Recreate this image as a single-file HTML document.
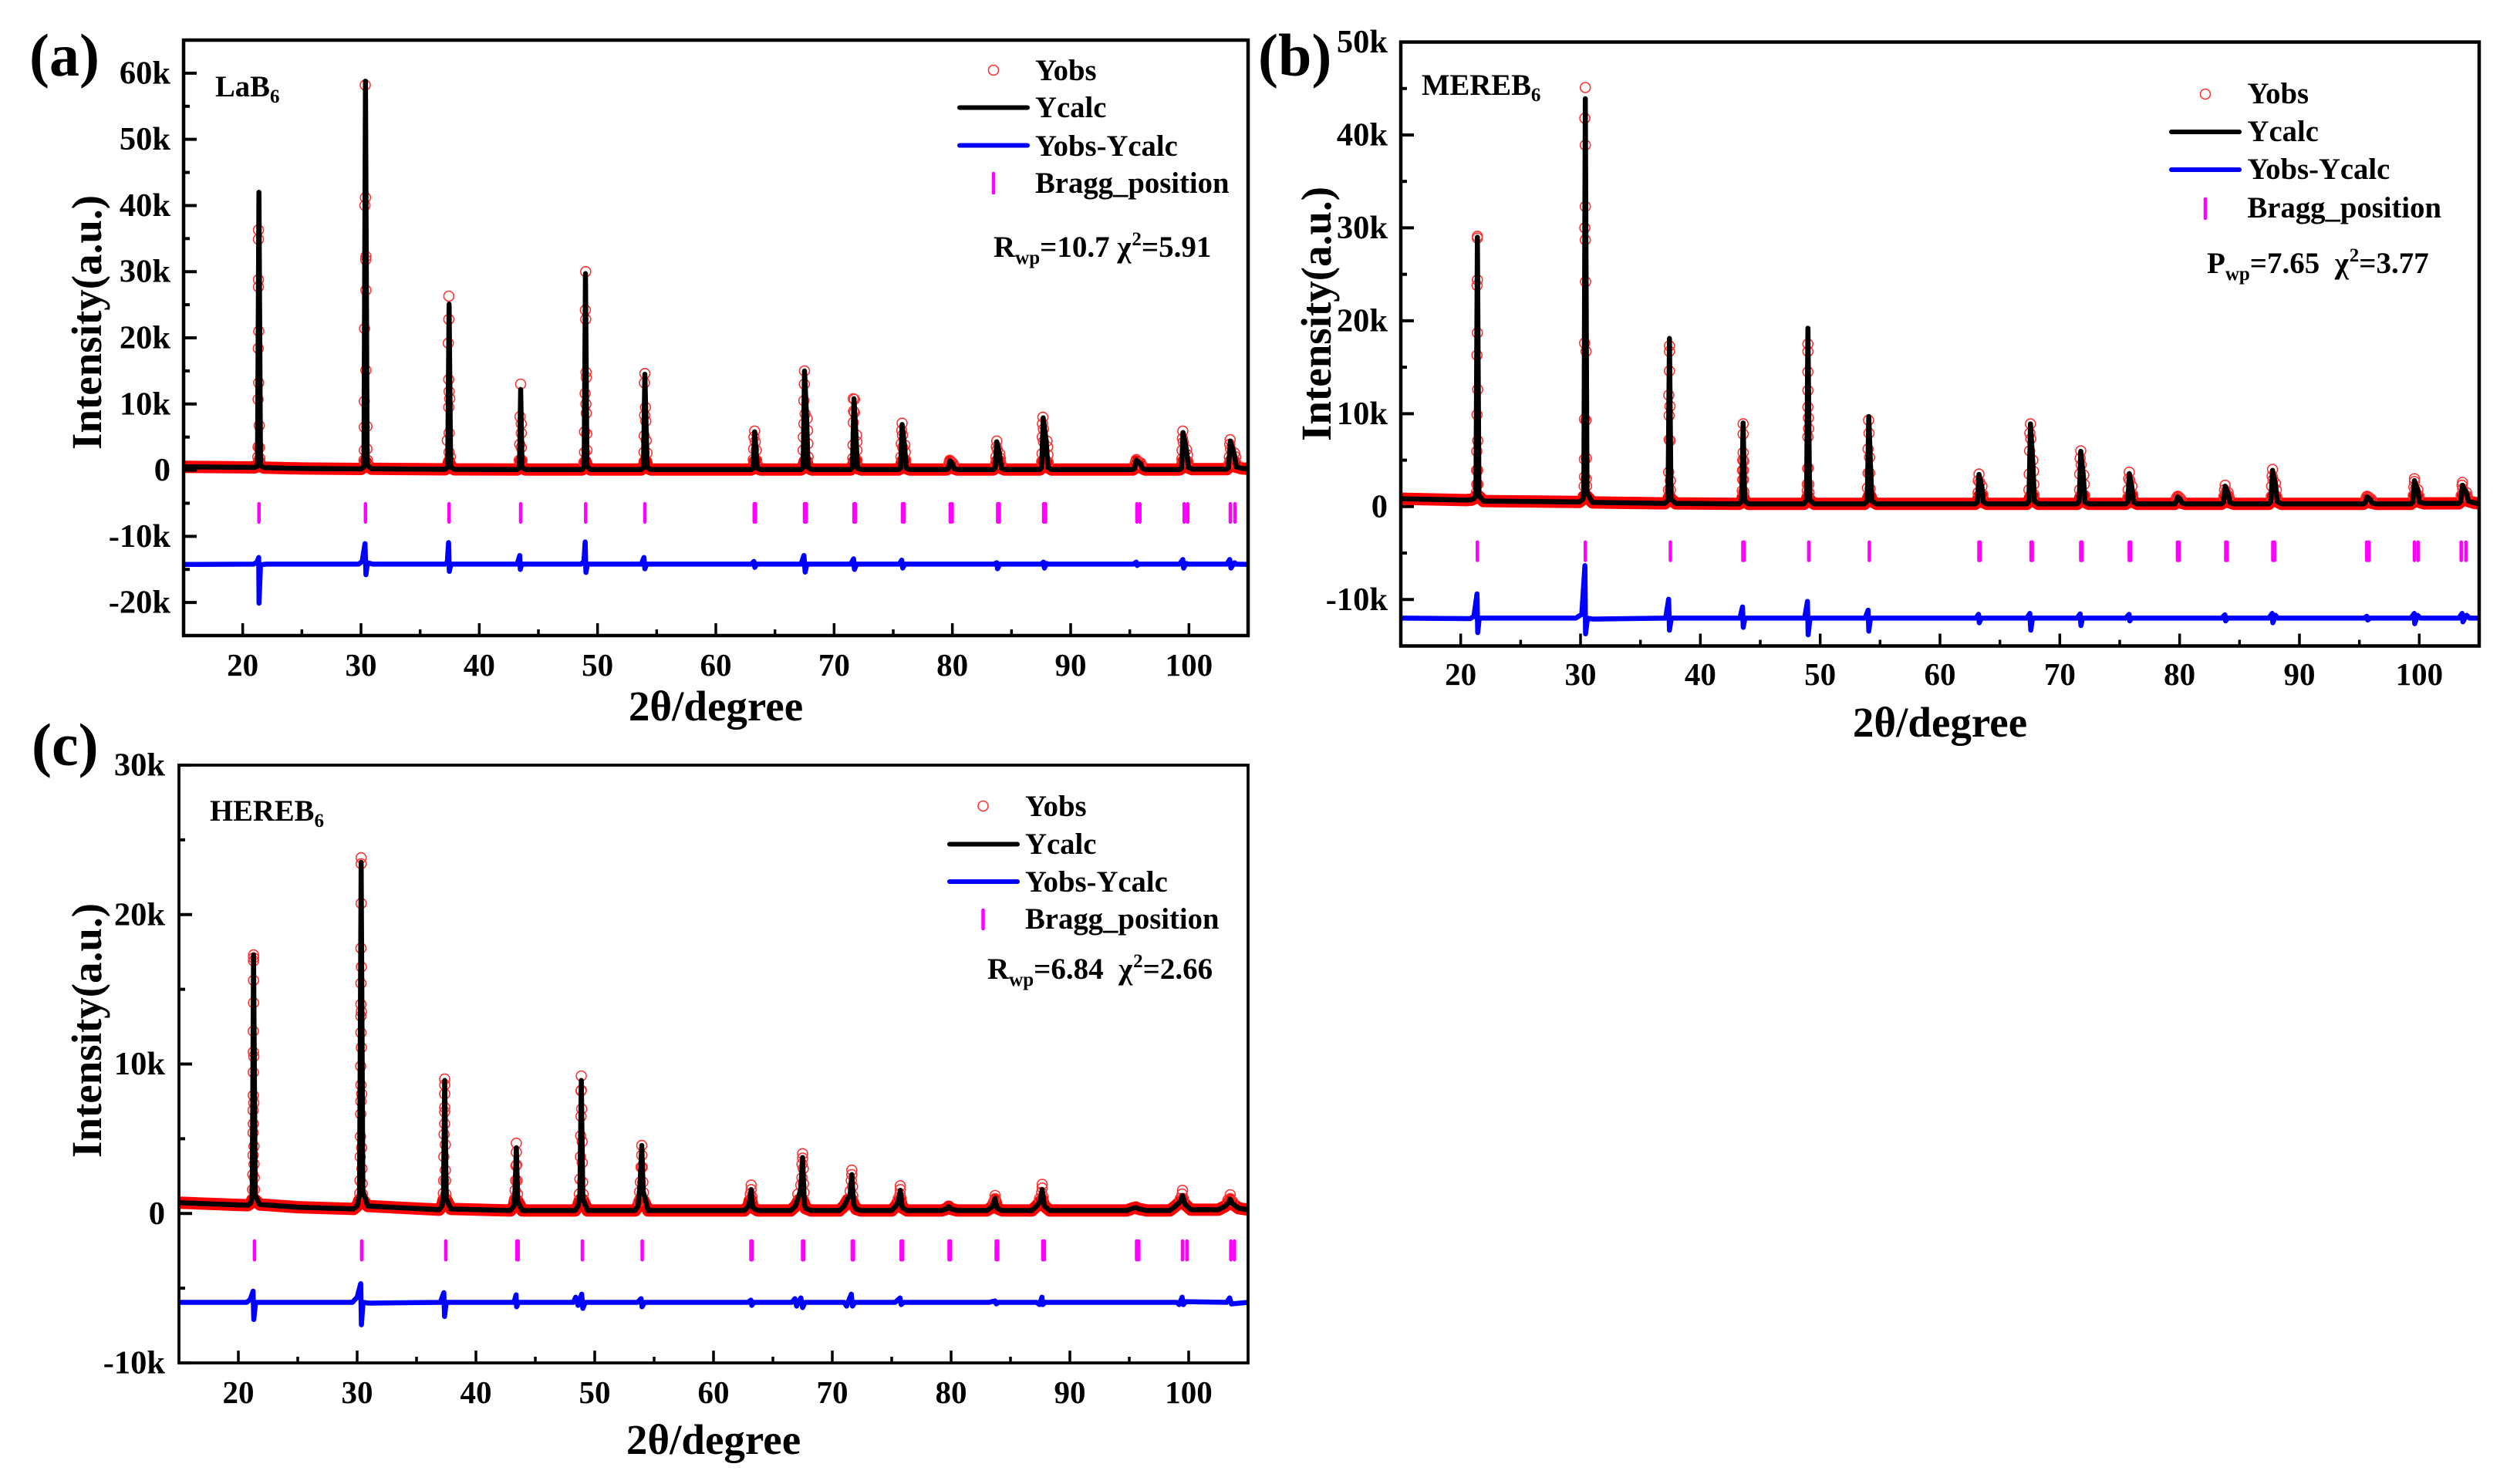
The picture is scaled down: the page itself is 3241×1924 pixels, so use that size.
<!DOCTYPE html>
<html lang="en">
<head>
<meta charset="utf-8">
<title>XRD Rietveld refinement of LaB6, MEREB6 and HEREB6</title>
<style>
html,body{margin:0;padding:0;background:#fff;}
svg{display:block;}
text{font-family:"Liberation Serif",serif;font-weight:bold;fill:#000;}
.leg{font-size:38.7px;}
.stat{font-size:39px;}
.ttl{font-size:55px;}
.lab{font-size:78px;}
</style>
</head>
<body>
<svg id="figure" xmlns="http://www.w3.org/2000/svg" width="3241" height="1924" viewBox="0 0 3241 1924">
  <rect width="3241" height="1924" fill="#fff"/>
  <g id="chart-layer"></g>

  <text class="lab" x="38" y="98">(a)</text>
  <text class="lab" x="1631" y="98">(b)</text>
  <text class="lab" x="41" y="992">(c)</text>

  <text class="ttl" transform="rotate(-90 131 418)" x="131" y="418" text-anchor="middle">Intensity(a.u.)</text>
  <text class="ttl" transform="rotate(-90 1725 407)" x="1725" y="407" text-anchor="middle">Intensity(a.u.)</text>
  <text class="ttl" transform="rotate(-90 131 1336)" x="131" y="1336" text-anchor="middle">Intensity(a.u.)</text>

  <text class="ttl" x="928" y="934" text-anchor="middle">2θ/degree</text>
  <text class="ttl" x="2515" y="955" text-anchor="middle">2θ/degree</text>
  <text class="ttl" x="925" y="1885" text-anchor="middle">2θ/degree</text>

  <text class="leg" x="279" y="125">LaB<tspan dy="8" font-size="25">6</tspan></text>
  <text class="leg" x="1843" y="123">MEREB<tspan dy="8" font-size="25">6</tspan></text>
  <text class="leg" x="272" y="1064">HEREB<tspan dy="8" font-size="25">6</tspan></text>

  <g>
    <circle cx="1288" cy="91" r="6.5" fill="none" stroke="#f33" stroke-width="1.6"/>
    <text class="leg" x="1342" y="104">Yobs</text>
    <line x1="1244" y1="139.5" x2="1332" y2="139.5" stroke="#000" stroke-width="6" stroke-linecap="round"/>
    <text class="leg" x="1342" y="152">Ycalc</text>
    <line x1="1244" y1="188.5" x2="1332" y2="188.5" stroke="#00f" stroke-width="6" stroke-linecap="round"/>
    <text class="leg" x="1342" y="202">Yobs-Ycalc</text>
    <line x1="1288" y1="225" x2="1288" y2="250" stroke="#f0f" stroke-width="4.5" stroke-linecap="round"/>
    <text class="leg" x="1342" y="250">Bragg_position</text>
  </g>
  <text class="stat" x="1288" y="333">R<tspan dy="9" font-size="25">wp</tspan><tspan dy="-9">=10.7 χ</tspan><tspan dy="-15" dx="1" font-size="25">2</tspan><tspan dy="15">=5.91</tspan></text>

  <g>
    <circle cx="2859" cy="122" r="6.5" fill="none" stroke="#f33" stroke-width="1.6"/>
    <text class="leg" x="2913.5" y="134">Yobs</text>
    <line x1="2815" y1="171" x2="2903" y2="171" stroke="#000" stroke-width="6" stroke-linecap="round"/>
    <text class="leg" x="2913.5" y="183">Ycalc</text>
    <line x1="2815" y1="220" x2="2903" y2="220" stroke="#00f" stroke-width="6" stroke-linecap="round"/>
    <text class="leg" x="2913.5" y="232">Yobs-Ycalc</text>
    <line x1="2859" y1="258" x2="2859" y2="283" stroke="#f0f" stroke-width="4.5" stroke-linecap="round"/>
    <text class="leg" x="2913.5" y="282">Bragg_position</text>
  </g>
  <text class="stat" x="2861" y="354">P<tspan dy="9" font-size="25">wp</tspan><tspan dy="-9">=7.65&#160;&#160;χ</tspan><tspan dy="-15" dx="1" font-size="25">2</tspan><tspan dy="15">=3.77</tspan></text>

  <g>
    <circle cx="1274.5" cy="1045" r="6.5" fill="none" stroke="#f33" stroke-width="1.6"/>
    <text class="leg" x="1329" y="1058">Yobs</text>
    <line x1="1231" y1="1094.5" x2="1319" y2="1094.5" stroke="#000" stroke-width="6" stroke-linecap="round"/>
    <text class="leg" x="1329" y="1107">Ycalc</text>
    <line x1="1231" y1="1143" x2="1319" y2="1143" stroke="#00f" stroke-width="6" stroke-linecap="round"/>
    <text class="leg" x="1329" y="1156">Yobs-Ycalc</text>
    <line x1="1274.5" y1="1180" x2="1274.5" y2="1204" stroke="#f0f" stroke-width="4.5" stroke-linecap="round"/>
    <text class="leg" x="1329" y="1204">Bragg_position</text>
  </g>
  <text class="stat" x="1280" y="1269">R<tspan dy="9" font-size="25">wp</tspan><tspan dy="-9">=6.84&#160;&#160;χ</tspan><tspan dy="-15" dx="1" font-size="25">2</tspan><tspan dy="15">=2.66</tspan></text>
</svg>

<script>
/* ---------- shared axis data ---------- */
const xMajorTicks = [20,30,40,50,60,70,80,90,100];
const xMinorTicks = [25,35,45,55,65,75,85,95];

/* ---------- panel (a) LaB6, intensities in thousands ---------- */
const aYMajor = [-20,-10,0,10,20,30,40,50,60];
const aYMinor = [-15,-5,5,15,25,35,45,55];
const aYLabels = ["-20k","-10k","0","10k","20k","30k","40k","50k","60k"];
const aCalcX = [15,21,21.25,21.37,21.5,21.8,25,30,30.25,30.38,30.52,30.9,37.1,37.33,37.45,37.58,37.9,43.2,43.4,43.5,43.62,43.9,48.7,48.87,48.98,49.1,49.4,53.7,53.88,54,54.1,54.2,54.5,63,63.18,63.28,63.4,63.5,63.8,67.2,67.38,67.5,67.68,67.8,68.1,71.4,71.55,71.68,71.85,71.98,72.3,75.45,75.62,75.75,75.95,76.1,76.4,79.5,79.68,79.8,80,80.15,80.4,83.45,83.62,83.75,84,84.15,84.4,87.4,87.55,87.68,87.93,88.08,88.4,95.25,95.42,95.55,95.9,96.05,96.3,99.2,99.38,99.5,99.8,99.95,100.3,103.2,103.35,103.5,103.85,104,104.5,105];
const aCalcY = [0.5,0.42,0.6,42,0.7,0.38,0.25,0.18,0.5,58.8,0.8,0.2,0.12,0.4,25.1,0.5,0.12,0.1,0.4,12.2,0.4,0.1,0.1,0.5,29.7,0.6,0.1,0.1,0.4,14.5,7,0.4,0.1,0.1,0.3,5.8,3,0.3,0.1,0.1,0.4,15,7.5,0.4,0.1,0.1,0.4,10.8,5.2,0.3,0.1,0.1,0.3,6.9,3.7,0.3,0.1,0.1,0.3,1.4,1,0.25,0.1,0.1,0.3,4.3,2.3,0.3,0.1,0.1,0.4,7.9,4.3,0.4,0.1,0.1,0.3,1.5,1,0.3,0.1,0.1,0.3,5.7,3,0.4,0.15,0.15,0.4,4.4,2.3,0.5,0.25,0.2];
const aObsX = [21.33,21.33,21.33,21.33,21.36,21.32,21.35,21.3,21.4,21.3,21.42,21.28,21.45,30.36,30.38,30.33,30.42,30.4,30.42,30.3,30.42,30.28,30.5,30.28,30.5,30.28,30.25,30.55,37.43,37.43,37.38,37.42,37.45,37.5,37.42,37.45,37.3,37.45,37.55,43.5,43.45,43.55,43.55,43.42,43.55,43.38,43.62,49,48.97,49,49.03,49.05,48.95,49.02,49.05,48.9,49.08,48.9,49.1,48.85,54,53.97,54.05,53.98,54.08,53.95,54.12,53.93,54.18,63.28,63.22,63.33,63.2,63.42,63.16,63.45,67.5,67.48,67.45,67.55,67.45,67.72,67.76,67.4,67.78,67.38,67.8,71.62,71.72,71.65,71.72,71.62,71.9,71.92,71.6,71.93,71.58,71.95,75.75,75.72,75.78,75.68,75.8,75.98,76.02,75.65,76.05,79.78,79.95,80.05,79.7,83.75,83.72,83.8,84,84.05,83.68,83.65,84.1,87.65,87.62,87.7,87.6,87.7,88,88.05,87.58,88.08,87.55,88.1,95.55,95.45,95.85,95.95,99.48,99.45,99.52,99.42,99.8,99.88,99.4,99.92,103.48,103.45,103.52,103.85,103.95,103.42,103.4,104];
const aObsY = [36.3,34.9,28.8,27.7,21,18.4,13.2,10.7,6.75,3.5,3.4,2,1.8,58.2,41.2,40,32.3,31.8,27.2,21.4,15.1,10.4,6.6,6.5,3.2,3,1.5,1.5,26.3,22.8,19.2,13.7,11.9,10.8,9.5,5.6,4.5,2.7,2,13,8.1,7,5.6,3.9,3.4,1.5,1.5,30,24.2,22.8,14.8,14,11.6,10,8.6,5.8,5.5,2.7,3,1.2,14.6,13.2,9.5,8.3,7.4,5.2,4.5,2.7,2.6,5.9,5,4.3,3.2,3,1.6,1.5,15,13,10.5,8.5,7,7.8,6,5,4,3,2,10.8,10.7,8.9,8.7,7.2,5.3,4.3,3.8,3,1.8,1.5,7.1,6,5.3,4,3.4,3.8,2.7,2,1.5,1.5,1.1,0.9,0.9,4.4,3.5,3.1,2.5,1.8,2,1,1,8,7,6.2,5,4.3,4.4,3.5,2.5,2.3,1.3,1.2,1.6,1,1.1,0.9,5.9,4.8,4.2,3,3.1,2.3,1.7,1.3,4.6,3.9,3.2,2.6,2,2,1,1];
const aDiffX = [15,20.9,21.2,21.35,21.38,21.5,22,29.8,30.1,30.34,30.42,30.55,31,37.1,37.3,37.4,37.47,37.6,43.2,43.42,43.47,43.6,48.6,48.85,48.95,49.02,49.15,53.7,53.92,54,54.15,63,63.22,63.3,63.45,67.2,67.45,67.55,67.7,71.4,71.65,71.72,71.9,75.5,75.72,75.8,76,83.5,83.75,83.82,84,87.5,87.7,87.78,87.95,88.1,95.3,95.55,95.62,95.8,99.2,99.48,99.55,99.75,100,103.2,103.45,103.55,103.85,104,105];
const aDiffY = [-14.25,-14.2,-13.9,-13.2,-20.1,-14.3,-14.2,-14.2,-13.8,-11.1,-15.8,-14,-14.2,-14.2,-13.9,-10.95,-15.3,-14.2,-14.2,-12.9,-15,-14.2,-14.2,-13.8,-10.85,-15.45,-14.2,-14.2,-13.2,-14.9,-14.2,-14.2,-13.8,-14.7,-14.2,-14.2,-12.9,-15.4,-14.2,-14.2,-13.4,-15,-14.2,-14.2,-13.6,-14.8,-14.2,-14.2,-14,-14.9,-14.2,-14.2,-13.9,-14.8,-14.1,-14.2,-14.2,-13.9,-14.4,-14.2,-14.2,-13.5,-14.8,-14.1,-14.2,-14.2,-13.5,-14.8,-14,-14.2,-14.25];
const aBragg = [21.37,30.38,37.45,43.5,49,54,63.25,63.35,67.5,67.65,71.68,71.8,75.78,75.92,79.82,79.98,83.83,83.97,87.72,87.88,95.6,95.85,99.6,99.9,103.5,103.9];

/* ---------- panel (b) MEREB6 ---------- */
const bYMajor = [-10,0,10,20,30,40,50];
const bYMinor = [-5,5,15,25,35,45];
const bYLabels = ["-10k","0","10k","20k","30k","40k","50k"];
const bCalcX = [15,20.5,20.9,21.15,21.27,21.39,21.52,21.9,29.9,30.2,30.28,30.4,30.54,31,37.05,37.3,37.42,37.55,37.95,43.25,43.45,43.57,43.7,44,48.65,48.86,48.98,49.12,49.5,53.7,53.93,54.06,54.2,54.32,54.7,62.95,63.13,63.26,63.5,63.62,63.9,67.25,67.42,67.55,67.75,67.88,68.2,71.45,71.62,71.75,71.97,72.1,72.4,75.5,75.68,75.8,76.02,76.15,76.45,79.6,79.72,79.85,80.05,80.2,80.5,83.5,83.67,83.8,84.05,84.2,84.5,87.45,87.62,87.75,88,88.15,88.5,95.35,95.52,95.65,95.9,96.05,96.4,99.3,99.47,99.6,99.88,100.02,100.4,103.3,103.47,103.6,103.95,104.1,104.6,105];
const bCalcY = [0.85,0.7,0.75,0.9,1.2,29,1.2,0.6,0.5,0.8,1.5,43.9,1.5,0.45,0.35,0.7,18.1,0.8,0.35,0.3,0.6,9,0.6,0.3,0.3,0.7,19.2,0.7,0.3,0.3,0.6,9.7,4.5,0.6,0.3,0.3,0.5,3.46,2.1,0.5,0.3,0.3,0.6,8.9,4.7,0.6,0.3,0.3,0.6,5.95,3.3,0.5,0.3,0.3,0.5,3.55,2.1,0.5,0.3,0.3,0.5,1.05,0.8,0.4,0.3,0.3,0.5,2.2,1.4,0.45,0.3,0.3,0.55,3.9,2.4,0.55,0.3,0.3,0.45,1.05,0.8,0.4,0.3,0.3,0.5,2.8,1.7,0.5,0.35,0.35,0.55,2.3,1.4,0.6,0.4,0.33];
const bObsX = [21.39,21.39,21.39,21.37,21.39,21.36,21.42,21.36,21.42,21.34,21.32,21.42,21.34,21.44,21.3,30.4,30.36,30.4,30.4,30.36,30.4,30.42,30.34,30.46,30.33,30.46,30.32,30.48,30.33,30.47,30.3,30.5,37.42,37.42,37.42,37.37,37.47,37.4,37.4,37.48,37.36,37.5,37.5,37.34,43.57,43.57,43.57,43.54,43.62,43.52,43.6,43.54,43.6,43.5,43.63,48.98,48.98,48.98,48.98,48.98,49.02,49.03,48.98,49.02,48.96,48.93,49.05,48.93,49.07,54.04,54.08,54,54.12,54,54.13,53.95,54.17,63.26,63.2,63.33,63.5,63.18,63.57,67.55,67.5,67.58,67.48,67.75,67.8,67.45,67.83,67.42,67.85,71.75,71.7,71.78,71.66,72,72.04,71.65,72.08,75.8,75.75,75.85,76.02,75.7,76.08,75.68,79.82,79.95,79.72,80.1,83.8,83.75,83.85,84.05,84.1,83.7,87.75,87.72,87.8,88,87.68,88.07,87.65,88.1,95.65,95.55,95.85,96,99.6,99.6,99.55,99.65,99.88,99.95,99.5,103.6,103.57,103.63,103.95,104,103.5];
const bObsY = [28.9,29.1,24.4,23.8,18.7,16.3,12.6,9.9,7.1,5.95,3.9,3.9,2.4,2.4,1.5,45.1,41.8,38.9,32.3,30,28.7,24.2,17.6,16.7,9.4,9.3,5.1,5.2,3.2,3,2.2,2.2,17.3,16.7,14.6,12,10.8,9.8,7.2,7.1,3.7,2.8,1.8,1.8,8.9,7.8,5.8,5,4.9,3.9,3.9,2.9,2.9,1.7,1.6,17.5,16.7,14.5,12.5,10.7,9.55,8.4,7.5,4.15,4.1,2.4,2.4,1.7,1.5,9.3,7.9,6.2,5.3,3.6,3.6,2,1.9,3.5,2.8,2.6,2.2,1.5,1.3,8.9,7.9,7.3,6,5,3.8,3.5,2.4,1.8,1.3,6,5.2,4.5,3.5,3.4,2.4,1.8,1.2,3.7,3,2.8,2.2,1.8,1.3,1,1.1,0.9,0.9,0.8,2.3,1.8,1.5,1.5,1.1,1.1,4,3.3,2.9,2.5,2.2,1.8,1.1,1.1,1.1,0.9,0.9,0.8,3,2.7,2.1,1.8,1.8,1.2,1.2,2.6,2.3,1.9,1.5,1.1,1.2];
const bDiffX = [15,20.5,20.8,21.1,21.36,21.42,21.55,22,29.6,30.1,30.37,30.42,30.58,31,37.1,37.35,37.42,37.58,43.3,43.52,43.58,43.72,48.7,48.94,49,49.15,53.75,54,54.06,54.2,63,63.22,63.28,63.45,67.25,67.5,67.58,67.72,71.45,71.7,71.76,71.9,75.5,75.78,75.84,76,83.5,83.78,83.84,84,87.45,87.72,87.78,88,88.2,95.4,95.62,95.7,95.9,99.3,99.58,99.62,99.85,100.1,103.3,103.58,103.64,103.95,104.2,105];
const bDiffY = [-12,-12.05,-12.05,-11.8,-9.4,-13.56,-12,-12,-12,-11.6,-6.35,-13.7,-12,-12.1,-12,-9.97,-13.3,-12,-12,-10.8,-13,-12,-12,-10.2,-13.8,-12,-12,-11.15,-13.4,-12,-12,-11.6,-12.5,-12,-12,-11.5,-13.3,-12,-12,-11.55,-12.8,-12,-12,-11.6,-12.3,-12,-12,-11.65,-12.3,-12,-12,-11.5,-12.5,-11.7,-12,-12,-11.8,-12.2,-12,-12,-11.5,-12.6,-11.7,-12,-12,-11.5,-12.4,-11.7,-12,-12];
const bBragg = [21.39,30.4,37.5,43.55,43.65,49.05,54.1,63.25,63.35,67.6,67.7,71.75,71.85,75.8,75.92,79.82,79.95,83.85,83.97,87.78,87.92,95.62,95.8,99.6,99.9,103.5,103.9];

/* ---------- panel (c) HEREB6 ---------- */
const cYMajor = [-10,0,10,20,30];
const cYMinor = [-5,5,15,25];
const cYLabels = ["-10k","0","10k","20k","30k"];
const cCalcX = [15,20.8,21.05,21.17,21.28,21.42,21.8,25,29.7,30,30.2,30.34,30.48,30.9,36.9,37.15,37.27,37.37,37.5,37.9,42.9,43.2,43.28,43.4,43.52,43.9,48.35,48.6,48.75,48.87,49,49.4,53.4,53.65,53.82,53.96,54.08,54.5,62.6,62.95,63.05,63.17,63.3,63.7,66.5,66.9,67.2,67.35,67.5,67.65,67.75,68.2,70.6,71,71.3,71.5,71.64,71.8,72,72.4,75,75.35,75.55,75.73,75.88,76.3,79.2,79.6,79.8,80,80.5,83,83.4,83.55,83.7,83.88,84.3,86.8,87.2,87.5,87.67,87.85,88.3,94.8,95.3,95.55,95.8,96.5,98.4,98.9,99.3,99.48,99.7,100.2,102.5,103.1,103.35,103.5,103.7,104.2,105];
const cCalcY = [0.72,0.55,0.7,1.2,17.3,1.2,0.6,0.42,0.3,0.5,1.2,23.5,1.5,0.5,0.25,0.5,1.2,8.9,1,0.3,0.2,0.5,1.2,4.4,0.8,0.2,0.2,0.5,1.3,8.9,1,0.2,0.2,0.5,2,4.55,1.5,0.2,0.2,0.5,0.85,1.6,0.4,0.2,0.2,0.5,1.2,1.7,3.75,0.6,0.35,0.2,0.2,0.5,1,1.2,2.6,0.6,0.3,0.2,0.2,0.5,0.8,1.55,0.4,0.2,0.2,0.3,0.45,0.3,0.2,0.2,0.4,0.6,1,0.35,0.2,0.2,0.5,0.8,1.6,0.5,0.2,0.2,0.35,0.4,0.3,0.2,0.2,0.5,0.8,1.2,0.6,0.25,0.25,0.5,0.7,0.95,0.65,0.35,0.25];
const cObsX = [21.28,21.28,21.28,21.28,21.28,21.26,21.26,21.3,21.26,21.26,21.3,21.24,21.26,21.24,21.32,21.24,21.32,21.22,21.34,21.2,21.36,30.34,30.34,30.34,30.32,30.36,30.32,30.32,30.36,30.32,30.32,30.36,30.3,30.32,30.38,30.32,30.3,30.28,30.38,30.26,30.4,30.24,30.42,30.22,30.44,37.37,37.37,37.37,37.37,37.37,37.37,37.32,37.42,37.3,37.42,37.28,37.44,37.26,37.47,43.4,43.4,43.43,43.37,43.34,43.46,43.3,43.5,43.27,48.87,48.87,48.85,48.9,48.85,48.82,48.94,48.8,48.95,48.75,48.98,48.7,49.02,53.96,53.96,53.9,54,53.84,54.05,53.78,54.1,53.7,63.17,63.17,63.1,63.25,67.5,67.5,67.45,67.55,67.45,67.57,67.35,67.62,67.1,71.64,71.64,71.6,71.7,71.5,71.72,75.73,75.73,75.7,75.8,75.55,83.7,83.7,83.6,87.67,87.67,87.62,87.75,87.45,99.48,99.45,99.55,99.3,103.5,103.5,103.3,103.7];
const cObsY = [17.1,17.3,16.9,15.6,14.1,12.2,10.8,10.5,9.45,7.9,7.4,6.9,6,5.4,4.5,3.9,3.3,2.6,2.4,1.6,1.6,23.8,23.4,20.75,17.75,16.5,15.4,14,13.5,13.2,12.1,11.1,9.85,8.6,8,7.5,6.65,5.15,4.4,3.8,3,2.2,2,1.35,1.3,9,8.6,8,7.1,6.8,6,5.3,4.6,3.8,2.9,2.2,2.2,1.35,1.3,4.7,4.1,3.25,3.2,2.2,2.2,1.55,1.3,1,9.2,8.25,8.2,7,6.5,5.2,4.8,3.8,3.4,2.3,2.1,1.3,1.3,4.55,3.9,3.1,3.1,2.1,2.1,1.45,1.4,0.8,1.9,1.6,1.3,1.1,4,3.7,3.3,3,2.4,2,1.9,1.4,1.3,2.9,2.6,2.2,1.8,1.5,1.2,1.85,1.6,1.3,1,1,1.2,1,0.8,1.95,1.7,1.4,1.1,1,1.55,1.3,1,1,1.25,1,0.9,0.8];
const cDiffX = [15,20.7,21,21.24,21.3,21.45,21.7,29.6,30,30.3,30.36,30.5,31,37,37.3,37.36,37.5,43.2,43.38,43.42,43.6,48.2,48.4,48.6,48.9,49,49.2,53.6,53.9,53.98,54.2,62.9,63.15,63.22,63.4,66.6,66.85,67,67.15,67.35,67.5,67.7,71,71.2,71.35,71.6,71.7,71.9,75.3,75.7,75.8,76,83.2,83.7,83.8,84,87.2,87.45,87.65,87.72,87.9,99,99.2,99.45,99.55,99.75,103.2,103.45,103.6,105];
const cDiffY = [-5.95,-5.95,-5.75,-5.2,-7.1,-5.95,-5.95,-5.95,-5.6,-4.7,-7.45,-5.95,-6,-5.95,-5.3,-6.9,-5.95,-5.95,-5.45,-6.25,-5.95,-5.95,-5.6,-6.15,-5.4,-6.35,-5.95,-5.95,-5.7,-6.25,-5.95,-5.95,-5.8,-6.15,-5.95,-5.95,-5.7,-6.2,-5.95,-5.65,-6.3,-5.95,-5.95,-6.2,-5.9,-5.4,-6.2,-5.95,-5.95,-5.65,-6.1,-5.95,-5.95,-5.85,-6.05,-5.95,-5.95,-6.1,-5.6,-6.1,-5.95,-5.95,-6.1,-5.6,-6.1,-5.9,-5.95,-5.65,-6.05,-5.95];
const cBragg = [21.36,30.38,37.46,43.45,43.55,48.96,54,63.15,63.25,67.5,67.6,71.68,71.78,75.8,75.92,79.83,79.95,83.8,83.92,87.72,87.85,95.62,95.8,99.48,99.85,103.55,103.85];

/* ---------- drawing ---------- */
const NS = "http://www.w3.org/2000/svg";
const layer = document.getElementById("chart-layer");

function shape(parent, tag, attrs){
  const el = document.createElementNS(NS, tag);
  for (const k in attrs) el.setAttribute(k, attrs[k]);
  parent.appendChild(el);
  return el;
}

function drawPanel(c){
  const sx = v => c.left + (v - 15) / 90 * (c.right - c.left);
  const sy = v => c.top + (c.yMax - v) / (c.yMax - c.yMin) * (c.bottom - c.top);
  const toPoints = (xs, ys, cap) => xs.map((x, i) => sx(x).toFixed(1) + "," + sy(cap === undefined ? ys[i] : Math.min(ys[i], cap)).toFixed(1)).join(" ");

  const panel = shape(layer, "g", {});
  
  

  const clip = shape(panel, "clipPath", {id: "clip-" + c.id});
  shape(clip, "rect", {x: c.left, y: c.top, width: c.right - c.left, height: c.bottom - c.top});
  const plot = shape(panel, "g", {"clip-path": "url(#clip-" + c.id + ")"});

  const band = shape(plot, "polyline", {points: toPoints(c.calcX, c.calcY, c.cap), fill: "none", stroke: "#f00", "stroke-width": 16, "stroke-linejoin": "round"});
  
  

  c.obsX.forEach((x, i) => {
    const dot = shape(plot, "circle", {cx: sx(x).toFixed(1), cy: sy(c.obsY[i]).toFixed(1), r: 6.5, fill: "none", stroke: "#f33", "stroke-width": 1.6});
    
    
  });

  const calc = shape(plot, "polyline", {points: toPoints(c.calcX, c.calcY), fill: "none", stroke: "#000", "stroke-width": 6.5, "stroke-linejoin": "round", "stroke-linecap": "round"});
  
  

  const diff = shape(plot, "polyline", {points: toPoints(c.diffX, c.diffY), fill: "none", stroke: "#00f", "stroke-width": 6.5, "stroke-linejoin": "round", "stroke-linecap": "round"});
  
  

  c.bragg.forEach(x => {
    const mark = shape(plot, "line", {x1: sx(x).toFixed(1), x2: sx(x).toFixed(1), y1: sy(c.braggTop) + 2, y2: sy(c.braggBottom) - 2, stroke: "#f0f", "stroke-width": 4.5, "stroke-linecap": "round"});
    
    
  });

  const frame = shape(panel, "rect", {x: c.left, y: c.top, width: c.right - c.left, height: c.bottom - c.top, fill: "none", stroke: "#000", "stroke-width": c.frame});
  
  

  xMajorTicks.forEach(v => {
    const t = shape(panel, "line", {x1: sx(v), x2: sx(v), y1: c.bottom, y2: c.bottom - 16, stroke: "#000", "stroke-width": 3.5});
    
    
    const l = shape(panel, "text", {x: sx(v), y: c.xLabelY, "text-anchor": "middle", "font-size": 41});
    l.textContent = String(v);
    
    
  });
  xMinorTicks.forEach(v => {
    const t = shape(panel, "line", {x1: sx(v), x2: sx(v), y1: c.bottom, y2: c.bottom - 8, stroke: "#000", "stroke-width": 3.5});
    
    
  });
  c.yMajor.forEach((v, i) => {
    const t = shape(panel, "line", {x1: c.left, x2: c.left + 17, y1: sy(v), y2: sy(v), stroke: "#000", "stroke-width": 4});
    
    
    const l = shape(panel, "text", {x: c.yLabelX, y: sy(v) + 13.5, "text-anchor": "end", "font-size": 42.5});
    l.textContent = c.yLabels[i];
    
    
  });
  c.yMinor.forEach(v => {
    const t = shape(panel, "line", {x1: c.left, x2: c.left + 8, y1: sy(v), y2: sy(v), stroke: "#000", "stroke-width": 4});
    
    
  });
}

drawPanel({id: "a", left: 238, right: 1618, top: 52, bottom: 824, yMin: -25, yMax: 65, frame: 4.5, xLabelY: 876, yLabelX: 221, cap: 1.3,
  braggTop: -4.85, braggBottom: -8.07, yMajor: aYMajor, yMinor: aYMinor, yLabels: aYLabels,
  calcX: aCalcX, calcY: aCalcY, obsX: aObsX, obsY: aObsY, diffX: aDiffX, diffY: aDiffY, bragg: aBragg});
drawPanel({id: "b", left: 1816, right: 3214, top: 54.5, bottom: 837.5, yMin: -15, yMax: 50, frame: 4.5, xLabelY: 888, yLabelX: 1799, cap: 1.1,
  braggTop: -3.66, braggBottom: -5.95, yMajor: bYMajor, yMinor: bYMinor, yLabels: bYLabels,
  calcX: bCalcX, calcY: bCalcY, obsX: bObsX, obsY: bObsY, diffX: bDiffX, diffY: bDiffY, bragg: bBragg});
drawPanel({id: "c", left: 232, right: 1618, top: 992, bottom: 1767, yMin: -10, yMax: 30, frame: 3.8, xLabelY: 1819, yLabelX: 214, cap: 0.9,
  braggTop: -1.74, braggBottom: -3.2, yMajor: cYMajor, yMinor: cYMinor, yLabels: cYLabels,
  calcX: cCalcX, calcY: cCalcY, obsX: cObsX, obsY: cObsY, diffX: cDiffX, diffY: cDiffY, bragg: cBragg});
</script>
</body>
</html>
